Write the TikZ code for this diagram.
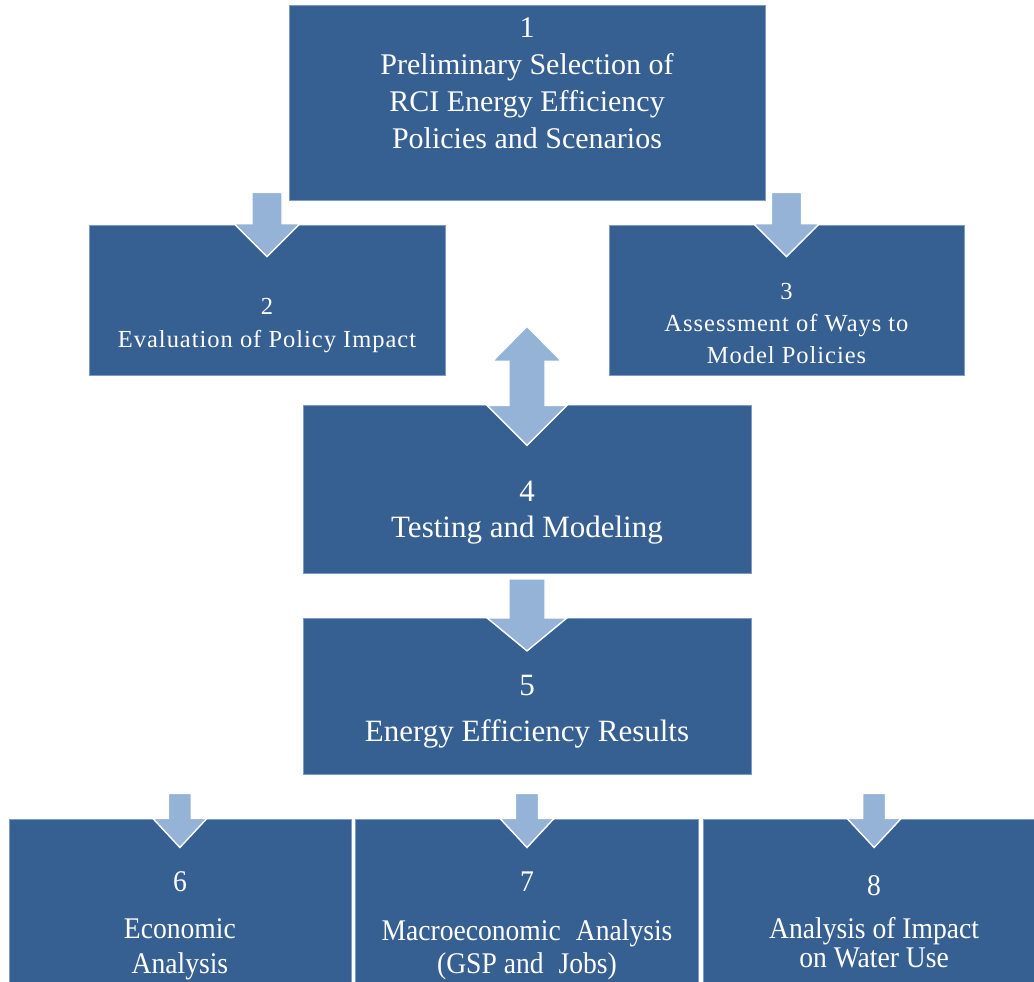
\documentclass[tikz,border=0pt]{standalone}
\usepackage{fontspec}
\setmainfont{Liberation Serif}
\newfontfamily\spacedserif[LetterSpace=4]{Liberation Serif}
\newfontfamily\tallserif[FakeStretch=0.92]{Liberation Serif}
\usetikzlibrary{calc,positioning}

\definecolor{boxblue}{RGB}{55,96,146}
\definecolor{boxedge}{RGB}{125,155,195}
\definecolor{arrowblue}{RGB}{149,179,215}

% fat downward arrow: tail, tip, shaft half width, head half width, head length
\newcommand{\flowarrow}[5]{%
  \draw[blockarrow] let \p1=(#1), \p2=(#2) in
    (\x1-#3,\y1) -- (\x1+#3,\y1) -- (\x1+#3,\y2+#5) -- (\x1+#4,\y2+#5)
    -- (\x1,\y2) -- (\x1-#4,\y2+#5) -- (\x1-#3,\y2+#5) -- cycle;}

\begin{document}
\begin{tikzpicture}[
  x=1pt, y=1pt,
  stage/.style={draw=boxedge, fill=boxblue, line width=0.6pt, inner sep=0pt},
  stagetext/.style={text=white, align=center, inner sep=0pt},
  blockarrow/.style={fill=arrowblue, draw=white, line width=1.4pt}
]
\useasboundingbox (0,0) rectangle (1034,-982);
\clip (0,0) rectangle (1034,-982);

% boxes
\node[stage, minimum width=476pt, minimum height=195pt] (select) at (527,-102.5) {};
\node[stage, minimum width=356pt, minimum height=150pt] (evaluate) at (267,-300) {};
\node[stage, minimum width=355pt, minimum height=150pt] (assess) at (786.5,-300) {};
\node[stage, minimum width=448pt, minimum height=168pt, below=205pt of select] (testing) {};
\node[stage, minimum width=448pt, minimum height=156pt, below=44pt of testing] (results) {};
\node[stage, minimum width=343pt, minimum height=175pt, below=44pt of results] (macro) {};
\node[stage, minimum width=342pt, minimum height=175pt, left=4pt of macro] (econ) {};
\node[stage, minimum width=342pt, minimum height=175pt, right=4pt of macro] (water) {};

% arrows
\flowarrow{$(select.south -| evaluate.north)+(0,8)$}{$(evaluate.north)+(0,-32)$}{15pt}{33pt}{33pt}
\flowarrow{$(select.south -| assess.north)+(0,8)$}{$(assess.north)+(0,-32)$}{15pt}{33pt}{33pt}
\draw[blockarrow] let \p1=(testing.north) in
  (\x1,\y1+79pt) -- (\x1+34.5pt,\y1+44pt) -- (\x1+18pt,\y1+44pt) -- (\x1+18pt,\y1)
  -- (\x1+40pt,\y1) -- (\x1,\y1-40pt) -- (\x1-40pt,\y1) -- (\x1-18pt,\y1)
  -- (\x1-18pt,\y1+44pt) -- (\x1-34.5pt,\y1+44pt) -- cycle;
\flowarrow{$(testing.south)+(0,-5)$}{$(results.north)+(0,-33)$}{18pt}{40pt}{33pt}
\foreach \stage in {econ,macro,water}{
  \flowarrow{$(results.south -| \stage.north)+(0,-19)$}{$(\stage.north)+(0,-29)$}{11.5pt}{27pt}{29pt}
}

% labels
\node[stagetext, font=\fontsize{30}{37}\selectfont] (select-txt) at ($(select.center)+(0,19)$)
  {1\\Preliminary Selection of\\RCI Energy Efficiency\\Policies and Scenarios};
\node[stagetext, font=\spacedserif\fontsize{24.5}{33}\selectfont] (evaluate-txt) at ($(evaluate.center)+(0,-26)$)
  {2\\Evaluation of Policy Impact};
\node[stagetext, font=\spacedserif\fontsize{24.5}{32}\selectfont] (assess-txt) at ($(assess.center)+(0,-24)$)
  {3\\Assessment of Ways to\\Model Policies};
\node[stagetext, font=\fontsize{31}{36}\selectfont] (testing-txt) at ($(testing.center)+(0,-23.5)$)
  {4\\Testing and Modeling};
\node[stagetext, font=\fontsize{31}{37}\selectfont] (results-txt) at ($(results.center)+(0,-15)$)
  {5\\[9pt]Energy Efficiency Results};
\node[stagetext, font=\tallserif\fontsize{30}{35}\selectfont] (econ-txt) at ($(econ.north)+(0,-107)$)
  {6\\[12pt]Economic\\Analysis};
\node[stagetext, font=\tallserif\fontsize{30}{33}\selectfont] (macro-txt) at ($(macro.north)+(0,-107)$)
  {7\\[16pt]Macroeconomic\enspace Analysis\\(GSP and\enspace Jobs)};
\node[stagetext, font=\tallserif\fontsize{30}{29}\selectfont] (water-txt) at ($(water.north)+(0,-103)$)
  {8\\[14pt]Analysis of Impact\\on Water Use};

\end{tikzpicture}
\end{document}
